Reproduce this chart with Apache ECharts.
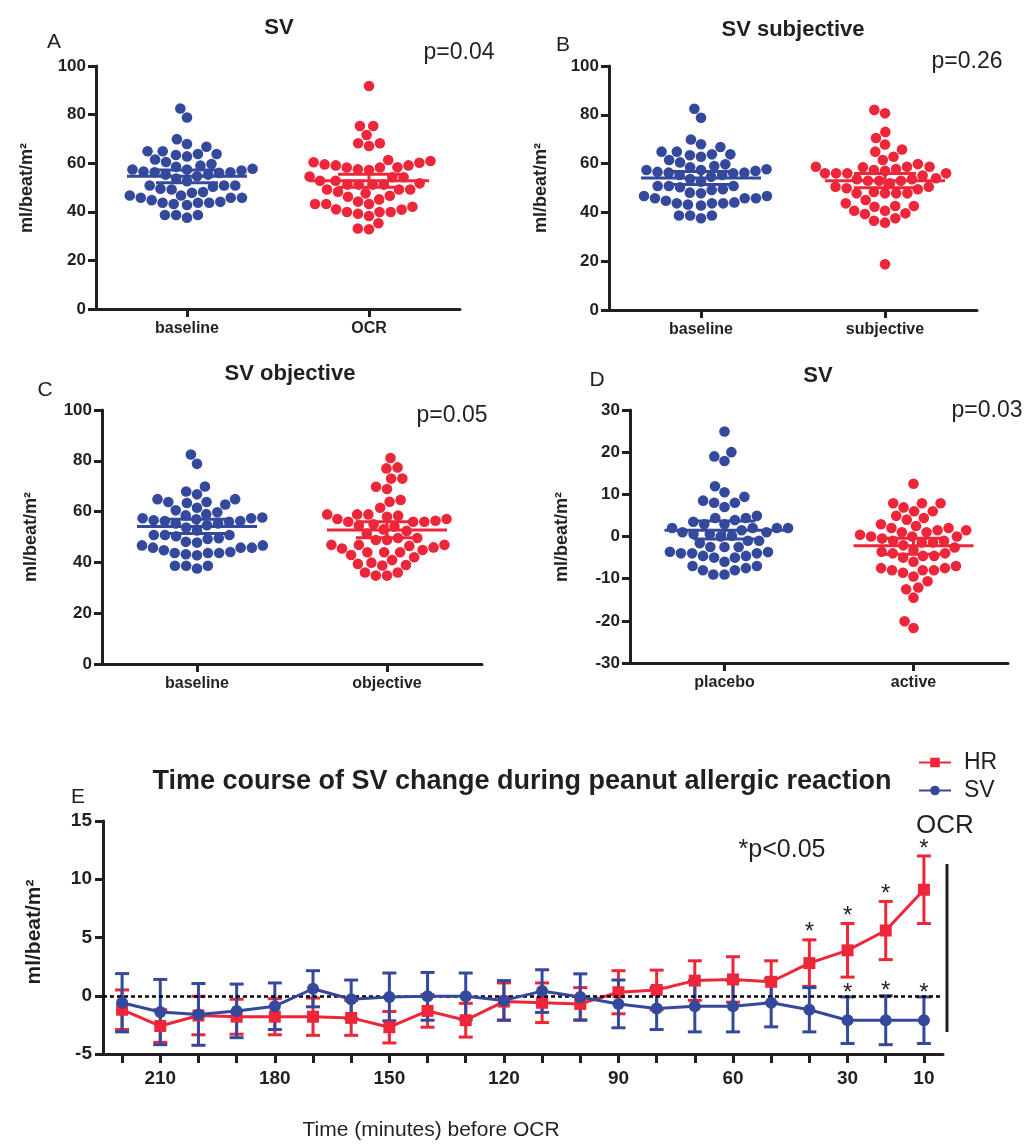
<!DOCTYPE html>
<html><head><meta charset="utf-8">
<script src="https://cdn.jsdelivr.net/npm/echarts@6/dist/echarts.min.js"></script>
<style>html,body{margin:0;padding:0;background:#fff}#c{width:1026px;height:1144px}</style>
</head><body><div id="c"></div>
<script>
// ---------------- DATA ----------------
const baseline = [82.5,78.8,69.9,66.8,67.9,63.4,64.9,63.8,63.8,64.9,62.8,61.5,59.7,58.5,59.0,60.5,56.6,56.0,55.3,54.6,53.7,57.4,57.4,57.7,55.3,56.3,56.3,57.0,50.8,50.8,50.8,52.6,50.3,49.5,47.8,46.7,45.8,44.8,44.1,45.8,45.8,46.7,48.1,49.2,43.7,43.7,42.8,43.2,43.7,38.7,37.6,38.7,38.7];
const ocr = [91.8,75.3,75.3,71.6,68.2,67.1,68.2,61.3,60.4,59.5,59.1,59.1,60.2,60.9,58.3,58.2,57.2,57.5,58.2,54.2,52.8,52.8,54.2,54.5,51.2,51.2,49.2,49.2,47.6,46.2,46.6,48.3,49.2,51.2,51.2,51.7,45.1,43.2,43.2,41.0,39.9,39.9,39.2,39.9,38.3,40.9,42.1,43.2,44.2,35.3,32.8,33.1];
const subjective = [82.0,80.6,73.0,70.5,67.8,64.9,65.8,62.8,61.5,58.7,58.7,57.8,57.0,56.0,56.0,56.0,56.0,57.4,58.5,58.7,59.8,55.1,54.0,53.0,53.0,50.5,49.9,49.5,50.5,51.9,53.0,53.6,53.6,47.8,47.8,45.1,42.6,42.3,42.6,43.7,47.8,47.8,48.4,40.7,39.3,39.6,40.7,36.6,35.8,37.6,18.7];
const objective = [81.1,77.4,77.0,73.0,73.0,68.9,69.8,63.9,64.6,61.5,58.9,58.4,57.1,56.4,56.0,56.0,56.0,57.1,58.0,58.9,58.9,54.5,53.0,51.4,49.6,48.8,48.8,49.6,52.4,54.1,55.0,46.9,46.9,45.9,44.9,44.0,42.9,42.0,44.0,44.0,45.5,46.5,46.9,40.9,39.4,39.0,38.8,39.9,36.0,34.8,34.8,36.0];
const placebo = [24.9,20.0,19.0,17.9,11.9,9.4,10.5,8.0,7.0,8.0,8.5,4.4,3.9,2.9,2.9,3.5,4.4,4.9,2.0,2.0,1.5,1.0,0.2,0.0,-1.0,-1.0,0.6,0.6,1.0,2.0,2.0,-2.5,-2.5,-3.7,-4.0,-4.6,-5.0,-5.0,-4.6,-4.0,-4.0,-3.6,-2.5,-1.6,-7.0,-7.5,-8.0,-9.0,-9.0,-8.0,-7.0,-6.0];
const active = [12.5,7.9,6.9,6.0,6.0,7.9,7.9,4.4,2.9,2.0,2.0,2.5,4.0,4.9,1.5,1.0,0.4,0.0,-0.5,-1.0,-1.4,-2.1,-1.4,-1.0,0.0,0.0,1.0,1.5,-3.2,-4.0,-4.6,-5.0,-6.0,-4.6,-4.0,-3.6,-2.6,-7.0,-7.5,-8.0,-8.6,-10.6,-9.5,-8.0,-8.0,-7.5,-12.5,-12.1,-14.5,-20.1,-21.7];

// mean with lower / upper error limits, per group
const statsA = [[54.6,52.0,57.2],[52.8,50.1,55.5]];
const statsB = [[54.1,51.4,56.8],[53.0,50.1,55.9]];
const statsC = [[54.1,51.4,57.0],[52.8,49.7,56.0]];
const statsD = [[1.5,-0.6,3.7],[-2.2,-4.2,-0.4]];

const catsA = ['baseline','OCR'];
const catsB = ['baseline','subjective'];
const catsC = ['baseline','objective'];
const catsD = ['placebo','active'];

// Panel E
const times = [220,210,200,190,180,170,160,150,140,130,120,110,100,90,80,70,60,50,40,30,20,10];
const timeLabels = [210,180,150,120,90,60,30,10];
const hrMean = [-1.2,-2.6,-1.7,-1.8,-1.8,-1.8,-1.9,-2.7,-1.3,-2.1,-0.5,-0.6,-0.7,0.3,0.5,1.3,1.4,1.2,2.8,3.9,5.6,9.1];
const hrErr  = [1.7,1.4,1.65,1.5,1.55,1.6,1.5,1.35,1.4,1.45,1.6,1.7,1.4,1.85,1.7,1.7,1.95,1.8,2.0,2.3,2.5,2.9];
const svMean = [-0.6,-1.4,-1.6,-1.3,-0.9,0.6,-0.3,-0.1,-0.05,-0.05,-0.4,0.4,-0.1,-0.7,-1.1,-0.9,-0.9,-0.6,-1.2,-2.1,-2.1,-2.1];
const svErr  = [2.5,2.8,2.65,2.3,2.0,1.55,1.65,2.05,2.05,2.0,1.7,1.83,1.98,2.05,1.8,2.2,2.2,2.07,1.9,2.0,2.1,2.0];
const sigHR = [40,30,20,10];
const sigSV = [30,20,10];

// ---------------- STYLE ----------------
const FONT = '"Liberation Sans", Arial, Helvetica, sans-serif';
const INK = '#231f20';
const BLUE = '#34499c';
const RED = '#ee2639';

const panels = [
  {cats:catsA, groups:[baseline, ocr], stats:statsA, min:0, max:100, step:20, grid:{left:96, top:66, width:364, height:243}},
  {cats:catsB, groups:[baseline, subjective], stats:statsB, min:0, max:100, step:20, grid:{left:609, top:66, width:368, height:244}},
  {cats:catsC, groups:[baseline, objective], stats:statsC, min:0, max:100, step:20, grid:{left:102, top:410, width:380, height:254}},
  {cats:catsD, groups:[placebo, active], stats:statsD, min:-30, max:30, step:10, grid:{left:630, top:410, width:378, height:253}}
];
const gridE = {left:103, top:821, width:840, height:233};

// beeswarm layout (pixel offsets) computed from values
function swarm(vals, pxPerUnit, D) {
  const idx = vals.map((v,i)=>i).sort((a,b)=>vals[a]-vals[b]);
  const placed = []; const off = new Array(vals.length);
  for (const i of idx) {
    const y = vals[i]*pxPerUnit;
    const ints = [];
    for (const p of placed) {
      const dy = Math.abs(p.y - y);
      if (dy < D) { const dx = Math.sqrt(D*D - dy*dy); ints.push([p.x-dx, p.x+dx]); }
    }
    const cands = [0]; ints.forEach(t=>cands.push(t[0], t[1]));
    cands.sort((a,b)=>Math.abs(a)-Math.abs(b) || a-b);
    let x = 0;
    for (const c of cands) { if (ints.every(t=> c <= t[0]+1e-6 || c >= t[1]-1e-6)) { x = c; break; } }
    off[i] = x; placed.push({x, y});
  }
  return off;
}

const grids = [], xAxes = [], yAxes = [], series = [];
const axisLine = {show:true, onZero:false, lineStyle:{color:INK, width:3}};
const axisTick = {show:true, length:8, lineStyle:{color:INK, width:3}};

panels.forEach((p, k) => {
  grids.push(p.grid);
  xAxes.push({type:'category', gridIndex:k, data:p.cats, axisLine, axisTick:Object.assign({alignWithLabel:true}, axisTick),
    axisLabel:{color:INK, fontFamily:FONT, fontWeight:'bold', fontSize:16, margin:12}, splitLine:{show:false}});
  yAxes.push({type:'value', gridIndex:k, min:p.min, max:p.max, interval:p.step, axisLine, axisTick,
    axisLabel:{color:INK, fontFamily:FONT, fontWeight:'bold', fontSize:17, margin:10}, splitLine:{show:false}});
  const ppu = p.grid.height/(p.max-p.min);
  p.groups.forEach((vals, g) => {
    const color = g===0 ? BLUE : RED;
    const off = swarm(vals, ppu, 11.2);
    series.push({type:'custom', name:'dots'+k+g, xAxisIndex:k, yAxisIndex:k, z:2,
      data: vals.map((v,i)=>[g, v, off[i]]), encode:{x:0, y:1},
      renderItem:(params, api) => {
        const c = api.coord([api.value(0), api.value(1)]);
        return {type:'circle', shape:{cx:c[0]+api.value(2), cy:c[1], r:5.3}, style:{fill:color}};
      }});
    const st = p.stats[g];
    series.push({type:'custom', name:'mean'+k+g, xAxisIndex:k, yAxisIndex:k, z:3,
      data:[[g, st[0], st[1], st[2]]], encode:{x:0, y:[1,2,3]},
      renderItem:(params, api) => {
        const gi = api.value(0);
        const m = api.coord([gi, api.value(1)]), lo = api.coord([gi, api.value(2)]), hi = api.coord([gi, api.value(3)]);
        const s = {stroke:color, lineWidth:3};
        return {type:'group', children:[
          {type:'line', shape:{x1:m[0]-60, y1:m[1], x2:m[0]+60, y2:m[1]}, style:s},
          {type:'line', shape:{x1:m[0], y1:lo[1], x2:m[0], y2:hi[1]}, style:s},
          {type:'line', shape:{x1:m[0]-31, y1:lo[1], x2:m[0]+31, y2:lo[1]}, style:s},
          {type:'line', shape:{x1:m[0]-31, y1:hi[1], x2:m[0]+31, y2:hi[1]}, style:s}
        ]};
      }});
  });
});

// Panel E
grids.push(gridE);
xAxes.push({type:'category', gridIndex:4, data:times.map(String), boundaryGap:true, axisLine,
  axisTick:{show:true, length:9, interval:0, alignWithLabel:true, lineStyle:{color:INK, width:3}},
  axisLabel:{interval:0, color:INK, fontFamily:FONT, fontWeight:'bold', fontSize:19, margin:15,
    formatter:v => timeLabels.includes(+v) ? v : ''}, splitLine:{show:false}});
yAxes.push({type:'value', gridIndex:4, min:-5, max:15, interval:5, axisLine,
  axisTick:{show:true, length:8, lineStyle:{color:INK, width:3}},
  axisLabel:{color:INK, fontFamily:FONT, fontWeight:'bold', fontSize:19, margin:11}, splitLine:{show:false}});

function errSeries(name, mean, err, color) {
  return {type:'custom', name, xAxisIndex:4, yAxisIndex:4, z:3,
    data: mean.map((m,i)=>[i, m-err[i], m+err[i]]), encode:{x:0, y:[1,2]},
    renderItem:(params, api) => {
      const i = api.value(0);
      const lo = api.coord([i, api.value(1)]), hi = api.coord([i, api.value(2)]);
      const s = {stroke:color, lineWidth:3};
      return {type:'group', children:[
        {type:'line', shape:{x1:lo[0], y1:lo[1], x2:hi[0], y2:hi[1]}, style:s},
        {type:'line', shape:{x1:lo[0]-7, y1:lo[1], x2:lo[0]+7, y2:lo[1]}, style:s},
        {type:'line', shape:{x1:hi[0]-7, y1:hi[1], x2:hi[0]+7, y2:hi[1]}, style:s}
      ]};
    }};
}
function starSeries(name, sig, mean, err, dy) {
  return {type:'custom', name, xAxisIndex:4, yAxisIndex:4, z:6,
    data: sig.map(t => { const i = times.indexOf(t); return [i, mean[i]+err[i]]; }), encode:{x:0, y:1},
    renderItem:(params, api) => {
      const c = api.coord([api.value(0), api.value(1)]);
      return {type:'text', x:c[0], y:c[1]-dy, style:{text:'*', font:'24px '+FONT, fill:INK, align:'center', verticalAlign:'middle'}};
    }};
}

series.push(errSeries('hrErr', hrMean, hrErr, RED));
series.push({type:'line', name:'HR', xAxisIndex:4, yAxisIndex:4, data:hrMean, z:4,
  symbol:'rect', symbolSize:12, showAllSymbol:true, itemStyle:{color:RED}, lineStyle:{color:RED, width:3},
  markLine:{silent:true, symbol:['none','none'], label:{show:false}, data:[{yAxis:0}],
    lineStyle:{color:'#000', width:2.5, type:[4,3]}}});
series.push(errSeries('svErr', svMean, svErr, BLUE));
series.push({type:'line', name:'SV', xAxisIndex:4, yAxisIndex:4, data:svMean, z:5,
  symbol:'circle', symbolSize:12, showAllSymbol:true, itemStyle:{color:BLUE}, lineStyle:{color:BLUE, width:3}});
series.push(starSeries('starHR', sigHR, hrMean, hrErr, 7));
series.push(starSeries('starSV', sigSV, svMean, svErr, 4));

// ---------------- TEXT ----------------
function txt(t, x, y, size, bold, rot) {
  return {type:'text', x, y, rotation:rot||0, silent:true,
    style:{text:t, font:(bold?'bold ':'')+size+'px '+FONT, fill:INK, align:'center', verticalAlign:'middle'}};
}
const YNAME = 'ml/beat/m\u00B2';
const graphic = [
  txt('SV', 279, 28, 22, true), txt('A', 54, 42, 21), txt('p=0.04', 459, 53, 23),
  txt('SV subjective', 793, 30, 22, true), txt('B', 563, 45, 21), txt('p=0.26', 967, 62, 23),
  txt('SV objective', 290, 374, 22, true), txt('C', 45, 390, 21), txt('p=0.05', 452, 416, 23),
  txt('SV', 818, 376, 22, true), txt('D', 597, 380, 21), txt('p=0.03', 987, 411, 23),
  txt('Time course of SV change during peanut allergic reaction', 522, 782, 27, true),
  txt('E', 78, 797, 21), txt('*p<0.05', 782, 850, 25), txt('OCR', 945, 826, 26),
  txt('Time (minutes) before OCR', 431, 1130, 21),
  txt(YNAME, 27, 188, 18, true, Math.PI/2), txt(YNAME, 541, 188, 18, true, Math.PI/2),
  txt(YNAME, 31, 537, 18, true, Math.PI/2), txt(YNAME, 562, 537, 18, true, Math.PI/2),
  txt(YNAME, 34, 932, 21, true, Math.PI/2),
  {type:'line', silent:true, shape:{x1:947, y1:864, x2:947, y2:1032}, style:{stroke:INK, lineWidth:3}}
];

const chart = echarts.init(document.getElementById('c'), null, {renderer:'canvas'});
chart.setOption({
  animation:false, backgroundColor:'#fff',
  textStyle:{fontFamily:FONT},
  grid:grids, xAxis:xAxes, yAxis:yAxes, series, graphic,
  legend:{data:['HR','SV'], orient:'vertical', left:913, top:746, itemWidth:32, itemHeight:12, itemGap:5,
    textStyle:{color:INK, fontFamily:FONT, fontSize:23, padding:[0,0,0,8]}}
});
</script></body></html>
